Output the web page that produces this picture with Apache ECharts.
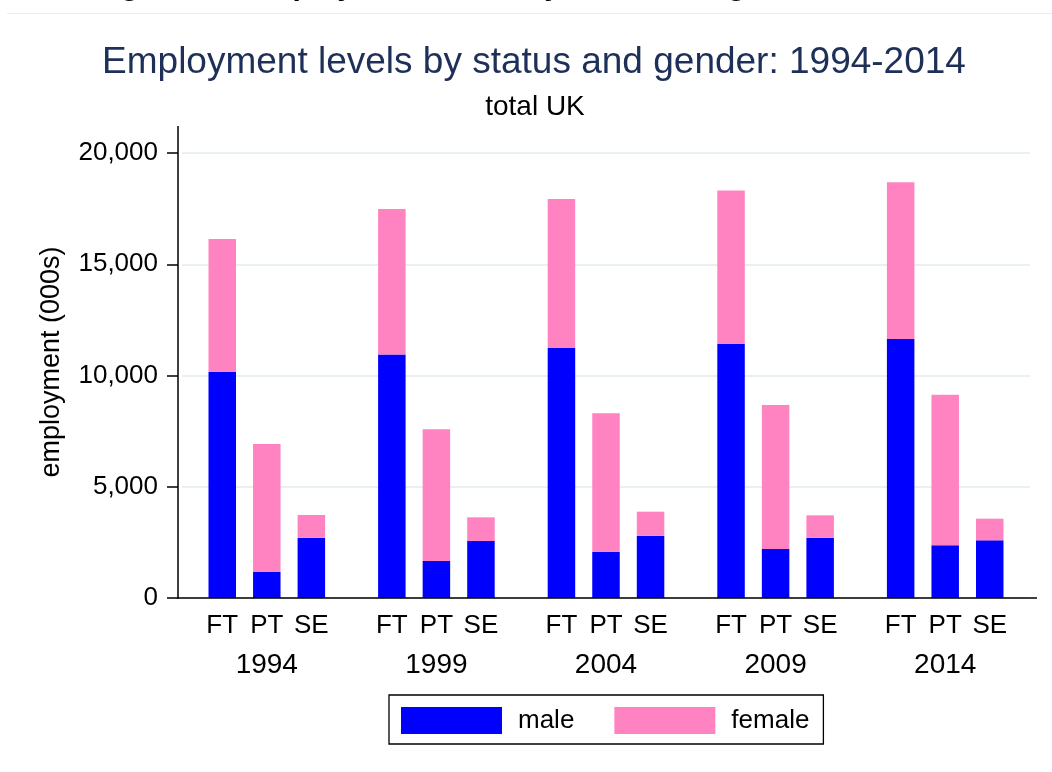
<!DOCTYPE html>
<html>
<head>
<meta charset="utf-8">
<script src="https://cdn.jsdelivr.net/npm/echarts@6/dist/echarts.min.js"></script>
<style>
  html, body { margin: 0; padding: 0; background: #fff; }
  #chart { width: 1052px; height: 772px; }
</style>
</head>
<body>
<div id="chart"></div>
<script>
// data (thousands)
var years = ['1994', '1999', '2004', '2009', '2014'];
var statuses = ['FT', 'PT', 'SE'];
var maleFT   = [10160, 10940, 11240, 11420, 11640];
var femaleFT = [5975, 6540, 6690, 6890, 7040];
var malePT   = [1170, 1660, 2070, 2200, 2370];
var femalePT = [5750, 5920, 6230, 6470, 6770];
var maleSE   = [2700, 2560, 2790, 2700, 2590];
var femaleSE = [1030, 1065, 1090, 1015, 975];
var yTicks = [0, 5000, 10000, 15000, 20000];

var FONT = '"Liberation Sans", Arial, sans-serif';
var BLUE = '#0000ff';
var PINK = '#ff83c1';

var chart = echarts.init(document.getElementById('chart'));

function stackBar(name, stack, data, color, statusLabel) {
  var s = {
    name: name,
    type: 'bar',
    stack: stack,
    data: data,
    barWidth: 27.5,
    barGap: '62%',
    itemStyle: { color: color },
    emphasis: { disabled: true }
  };
  if (statusLabel) {
    s.label = {
      show: true,
      position: 'bottom',
      distance: 15,
      formatter: statusLabel,
      color: '#000',
      fontSize: 26,
      fontFamily: FONT
    };
  }
  return s;
}

var option = {
  backgroundColor: '#fff',
  animation: false,
  textStyle: { fontFamily: FONT },
  grid: { left: 182, right: 22, top: 153, bottom: 174, containLabel: false },
  xAxis: {
    type: 'category',
    data: years,
    axisLine: { show: false },
    axisTick: { show: false },
    axisLabel: { margin: 53, fontSize: 28, color: '#000', fontFamily: FONT },
    splitLine: { show: false }
  },
  yAxis: {
    type: 'value',
    min: yTicks[0],
    max: yTicks[yTicks.length - 1],
    interval: 5000,
    offset: 4,
    name: 'employment (000s)',
    nameLocation: 'middle',
    nameRotate: 90,
    nameGap: 113,
    nameTextStyle: { fontSize: 27, color: '#000', fontFamily: FONT, padding: [0, 0, 0, 27] },
    axisLine: { show: false },
    axisTick: { show: true, length: 11, lineStyle: { color: '#000', width: 1.5 } },
    axisLabel: {
      margin: 20, fontSize: 26, color: '#000', fontFamily: FONT,
      formatter: function (v) { return v.toLocaleString('en-US'); }
    },
    splitLine: { show: true, lineStyle: { color: '#e9f0f1', width: 2 } }
  },
  legend: {
    data: ['male', 'female'],
    left: 389,
    top: 695,
    orient: 'horizontal',
    icon: 'rect',
    itemWidth: 101,
    itemHeight: 27,
    itemGap: 40,
    padding: [12, 14, 10, 12],
    borderColor: '#000',
    borderWidth: 1.3,
    textStyle: { fontSize: 26, color: '#000', fontFamily: FONT, padding: [0, 0, 0, 11] },
    selectedMode: false
  },
  graphic: [
    // cut-off heading at the very top of the page
    { type: 'text', left: 94, top: -28, silent: true,
      style: { text: 'Figure 10: Employment levels by status and gender', font: 'bold 30px ' + FONT, fill: '#000' } },
    { type: 'line', silent: true, shape: { x1: 7, y1: 13.5, x2: 1052, y2: 13.5 },
      style: { stroke: '#ececec', lineWidth: 1 } },
    { type: 'text', x: 534, y: 62.5, silent: true,
      style: { text: 'Employment levels by status and gender: 1994-2014', font: '37px ' + FONT,
               fill: '#1e2f58', textAlign: 'center', textVerticalAlign: 'middle' } },
    { type: 'text', x: 535, y: 107, silent: true,
      style: { text: 'total UK', font: '28px ' + FONT, fill: '#000',
               textAlign: 'center', textVerticalAlign: 'middle' } },
    // axis lines (Stata draws them a little past the bar region)
    { type: 'line', silent: true, z: 10, shape: { x1: 178, y1: 126, x2: 178, y2: 598.5 },
      style: { stroke: '#000', lineWidth: 1.5 } },
    { type: 'line', silent: true, z: 10, shape: { x1: 177.3, y1: 598, x2: 1037, y2: 598 },
      style: { stroke: '#000', lineWidth: 1.5 } }
  ],
  series: [
    stackBar('male', 'FT', maleFT, BLUE, statuses[0]),
    stackBar('female', 'FT', femaleFT, PINK),
    stackBar('male', 'PT', malePT, BLUE, statuses[1]),
    stackBar('female', 'PT', femalePT, PINK),
    stackBar('male', 'SE', maleSE, BLUE, statuses[2]),
    stackBar('female', 'SE', femaleSE, PINK)
  ]
};

chart.setOption(option);
</script>
</body>
</html>
